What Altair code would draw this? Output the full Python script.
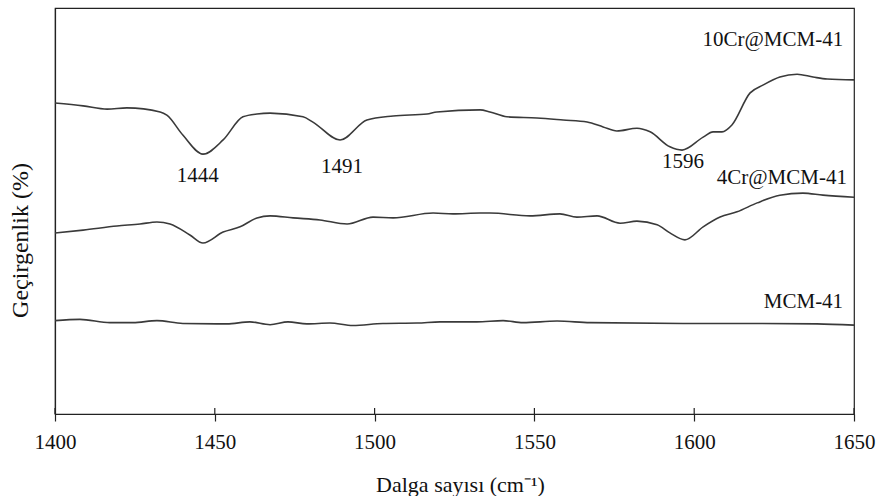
import altair as alt
import pandas as pd

# 10Cr@MCM-41
wn_10cr = [1400.0, 1408.8, 1416.3, 1422.5, 1432.9, 1435.0, 1440.0, 1446.3, 1452.6, 1458.8, 1463.2, 1467.3,
           1477.6, 1480.7, 1489.2, 1497.6, 1505.8, 1516.4, 1519.5, 1533.0, 1536.1, 1541.4, 1550.8, 1559.0,
           1566.5, 1571.5, 1575.8, 1582.1, 1586.2, 1592.4, 1596.2, 1602.8, 1605.9, 1608.7, 1611.8, 1617.5,
           1621.5, 1626.8, 1632.2, 1637.2, 1641.6, 1650.0]
t_10cr = [76.6, 75.9, 75.1, 75.4, 74.4, 73.6, 68.7, 64.0, 67.5, 73.2, 73.9, 74.1,
          73.2, 71.9, 67.5, 72.4, 73.4, 73.9, 74.4, 74.9, 74.4, 73.2, 72.9, 72.4,
          71.9, 70.7, 69.7, 70.4, 69.5, 65.8, 65.0, 68.2, 69.5, 69.5, 71.2, 79.1,
          81.0, 83.0, 83.7, 83.0, 82.5, 82.3]

# 4Cr@MCM-41
wn_4cr = [1400.0, 1408.8, 1419.4, 1426.6, 1431.9, 1436.0, 1442.2, 1446.3, 1452.6, 1457.9, 1463.2, 1467.3,
          1474.5, 1482.9, 1491.4, 1499.5, 1505.8, 1518.3, 1524.5, 1533.0, 1536.1, 1548.6, 1558.0, 1563.3,
          1569.6, 1576.8, 1582.1, 1588.4, 1592.4, 1597.1, 1602.8, 1608.1, 1613.4, 1619.7, 1626.8, 1634.0,
          1640.3, 1650.0]
t_4cr = [44.6, 45.3, 46.3, 46.8, 47.3, 46.8, 44.1, 42.1, 44.8, 46.1, 48.3, 48.8,
         48.3, 47.8, 46.8, 48.5, 48.3, 49.5, 49.3, 49.5, 49.5, 48.8, 49.3, 48.5,
         48.8, 47.0, 47.5, 46.6, 44.6, 42.9, 46.1, 48.5, 49.8, 52.0, 53.9, 54.4,
         53.9, 53.4]

# MCM-41
wn_mcm = [1400.0, 1407.8, 1417.2, 1424.4, 1431.9, 1440.0, 1453.8, 1461.0, 1467.3, 1472.9, 1478.8, 1486.0,
          1493.2, 1502.6, 1513.3, 1520.5, 1532.0, 1540.2, 1546.4, 1557.1, 1567.4, 1596.5, 1617.5, 1638.4,
          1650.0]
t_mcm = [23.0, 23.3, 22.5, 22.5, 23.0, 22.3, 22.2, 22.7, 22.0, 22.7, 22.2, 22.4,
         21.8, 22.3, 22.4, 22.7, 22.7, 23.0, 22.5, 22.9, 22.5, 22.3, 22.3, 22.2,
         21.9]

x_ticks = [1400, 1450, 1500, 1550, 1600, 1650]

# annotations
ann_text = ["10Cr@MCM-41", "4Cr@MCM-41", "MCM-41", "1444", "1491", "1596"]
ann_x = [1646.6, 1647.8, 1646.6, 1444.7, 1489.8, 1596.5]
ann_y = [92.1, 58.1, 27.6, 58.6, 60.8, 62.1]
ann_align = ["right", "right", "right", "center", "center", "center"]

FONT = "Liberation Serif"
LINE = "#3a3a3a"
AX = "#222222"

frames = []
for name, xs, ys in [("10Cr@MCM-41", wn_10cr, t_10cr), ("4Cr@MCM-41", wn_4cr, t_4cr), ("MCM-41", wn_mcm, t_mcm)]:
    frames.append(pd.DataFrame({"wn": xs, "t": ys, "sample": name}))
df = pd.concat(frames, ignore_index=True)

ann = pd.DataFrame({"text": ann_text, "wn": ann_x, "t": ann_y, "align": ann_align})
ticks_df = pd.DataFrame({"wn": x_ticks})

xscale = alt.Scale(domain=[1400, 1650], nice=False, zero=False)
yscale = alt.Scale(domain=[0, 100], nice=False, zero=False)

lines = alt.Chart(df).mark_line(color=LINE, strokeWidth=1.6, interpolate="monotone").encode(
    x=alt.X("wn:Q", scale=xscale,
            axis=alt.Axis(title="Dalga sayısı (cm⁻¹)", values=x_ticks, format="d", grid=False,
                          tickSize=7, tickColor=AX, domainColor=AX, tickWidth=1.2, domainWidth=1.2,
                          labelFont=FONT, labelFontSize=21, labelColor="#111", labelPadding=10,
                          labelFlush=False, labelAlign="center",
                          titleFont=FONT, titleFontSize=22, titleFontWeight="normal", titleColor="#111",
                          titleX=405, titleY=70, titleAlign="center", titleBaseline="middle")),
    y=alt.Y("t:Q", scale=yscale,
            axis=alt.Axis(title="Geçirgenlik (%)", ticks=False, labels=False, grid=False,
                          domainColor=AX, domainWidth=1.2,
                          titleFont=FONT, titleFontSize=24, titleFontWeight="normal", titleColor="#111",
                          titleX=-35, titleY=232, titleAlign="center", titleBaseline="middle", titleAngle=-90)),
    detail="sample:N",
)

inner_ticks = alt.Chart(ticks_df).mark_rule(color=AX, strokeWidth=1.2).encode(
    x=alt.X("wn:Q", scale=xscale),
    y=alt.value(400),
    y2=alt.value(406),
)

labels_r = alt.Chart(ann[ann["align"] == "right"]).mark_text(
    font=FONT, fontSize=21, color="#111", align="right", baseline="middle").encode(
    x=alt.X("wn:Q", scale=xscale), y=alt.Y("t:Q", scale=yscale), text="text:N")
labels_c = alt.Chart(ann[ann["align"] == "center"]).mark_text(
    font=FONT, fontSize=21, color="#111", align="center", baseline="middle").encode(
    x=alt.X("wn:Q", scale=xscale), y=alt.Y("t:Q", scale=yscale), text="text:N")

chart = alt.layer(lines, inner_ticks, labels_r, labels_c).properties(
    width=799, height=406,
    autosize=alt.AutoSizeParams(type="none"),
    padding={"left": 55, "top": 8, "right": 24, "bottom": 82},
    background="white",
).configure_view(stroke=AX, strokeWidth=1.2)

chart.save("out.html", embed_options={"renderer": "svg", "actions": False})
